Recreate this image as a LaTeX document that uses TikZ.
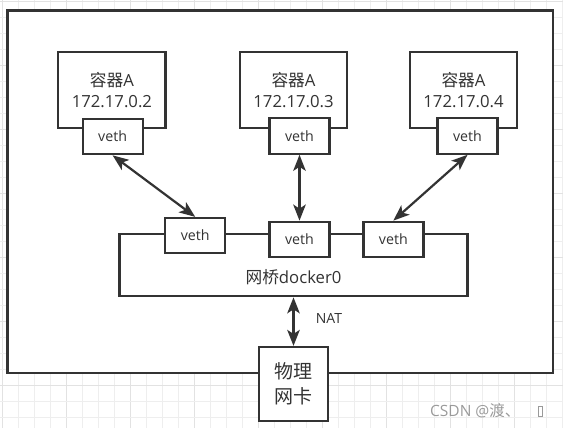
\documentclass[tikz,border=0pt]{standalone}
\usepackage{fontspec}
\setmainfont{Open Sans}
\newfontfamily\cjk{Noto Sans CJK SC}
\usetikzlibrary{arrows.meta}
\definecolor{ink}{HTML}{333333}
\definecolor{gridminor}{HTML}{EEEEEE}
\definecolor{gridmajor}{HTML}{E2E2E2}
\definecolor{wm}{HTML}{9A9A9A}
\begin{document}
\begin{tikzpicture}[x=1pt,y=-1pt,
  box/.style={draw=ink,line width=2.2pt,fill=white,inner sep=0pt,text=ink},
  container/.style={box,minimum width=107.3pt,minimum height=75.4pt,align=center,
    font=\fontsize{16.7}{21}\selectfont},
  vethbox/.style={box,minimum width=60pt,minimum height=36pt,
    font=\fontsize{14.2}{16}\selectfont},
  arr/.style={ink,line width=2.2pt,
    {Stealth[length=16pt,width=12.5pt,inset=4pt]}-{Stealth[length=16pt,width=12.5pt,inset=4pt]}},
  lbl/.style={inner sep=0pt,text=ink}]
\useasboundingbox (0,0) rectangle (563,428);
% background grid
\foreach \i in {0,...,35} {
  \pgfmathtruncatemacro{\m}{mod(\i,4)}
  \ifnum\m=0
    \draw[gridmajor,line width=0.8pt] ({2.7+16*\i},0) -- ({2.7+16*\i},428);
  \else
    \draw[gridminor,line width=0.8pt] ({2.7+16*\i},0) -- ({2.7+16*\i},428);
  \fi
}
\foreach \j in {0,...,26} {
  \pgfmathtruncatemacro{\m}{mod(\j,4)}
  \ifnum\m=0
    \draw[gridmajor,line width=0.8pt] (0,{1+16*\j}) -- (563,{1+16*\j});
  \else
    \draw[gridminor,line width=0.8pt] (0,{1+16*\j}) -- (563,{1+16*\j});
  \fi
}
% host frame
\node[box,minimum width=545.5pt,minimum height=362.5pt] (host) at (280.25,191.75) {};
% containers
\node[container] (c1) at (111.9,90) {{\cjk 容器}A\\172.17.0.2};
\node[container] (c2) at (293.5,90) {{\cjk 容器}A\\172.17.0.3};
\node[container] (c3) at (463.5,90) {{\cjk 容器}A\\172.17.0.4};
\node[vethbox,minimum height=35.3pt] (c1v) at (112.6,136.6) {veth};
\node[vethbox] (c2v) at (299.5,135.7) {veth};
\node[vethbox] (c3v) at (467.5,135.7) {veth};
% bridge
\node[box,minimum width=348pt,minimum height=62.3pt] (br) at (293.5,265.1) {};
\node[lbl,font=\fontsize{16.7}{19}\selectfont] (brl) at (293.5,277) {{\cjk 网桥}docker0};
\node[vethbox,minimum height=35.3pt] (b1v) at (195.2,235.6) {veth};
\node[vethbox,minimum height=35.6pt] (b2v) at (299.5,239.5) {veth};
\node[vethbox,minimum height=35.6pt] (b3v) at (393.4,239.5) {veth};
% physical NIC
\node[box,minimum width=68.6pt,minimum height=74pt,align=center,
  font=\cjk\fontsize{19}{25}\selectfont] (nic) at (293.5,384) {物理\\网卡};
% connectors
\draw[arr] (c1v.south) -- (b1v.north);
\draw[arr] (c2v.south) -- (b2v.north);
\draw[arr] (c3v.south) -- (b3v.north);
\draw[arr] (br.south) -- (nic.north);
\node[lbl,font=\fontsize{14}{16}\selectfont] (nat) at (329,318) {NAT};
% watermark
\node[inner sep=0pt,text=wm,anchor=base west,font=\fontsize{15.5}{17}\selectfont] (wmk) at (430,416)
  {CSDN @{\cjk 渡、}\hspace{18pt}\tikz[baseline]\draw[wm,line width=0.6pt] (0,0) rectangle (3.5pt,10pt);};
\end{tikzpicture}
\end{document}
